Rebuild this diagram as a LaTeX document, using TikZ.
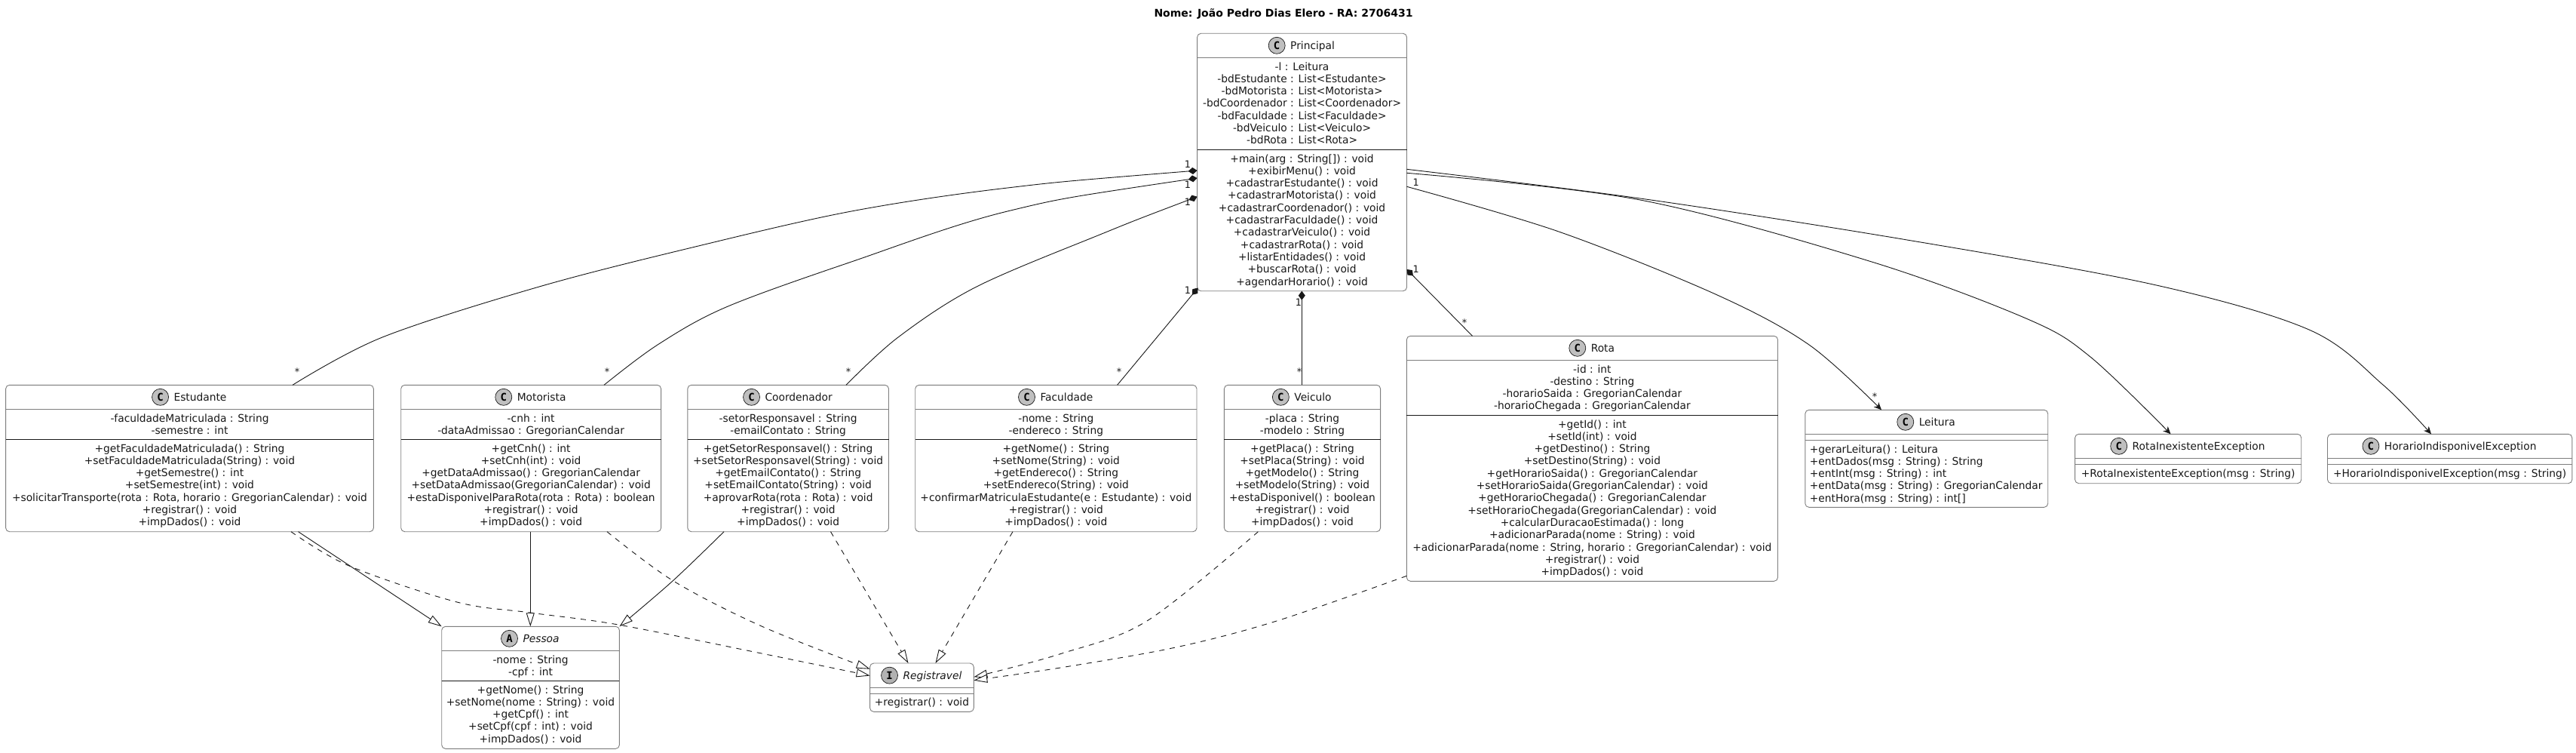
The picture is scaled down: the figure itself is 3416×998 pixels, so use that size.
\documentclass[tikz,border=0pt]{standalone}
\usepackage{fontspec}
\setmainfont{DejaVu Sans}[Ligatures=NoCommon,FakeStretch=0.985]
\newfontfamily\titlefont{DejaVu Sans}[Ligatures=NoCommon]
\newfontfamily\spotfont{DejaVu Sans Mono}[Ligatures=NoCommon]
\usetikzlibrary{arrows.meta}
\definecolor{ink}{HTML}{181818}
\definecolor{edgegray}{HTML}{7E7E7E}
\newlength\namew
\def\parsegeom#1,#2,#3,#4,#5,#6;{\def\gL{#1}\def\gR{#2}\def\gT{#3}\def\gH{#4}\def\gD{#5}\def\gB{#6}}
\def\centercomp{\def\mX{\cx}\def\mAnchor{north}\def\mAlign{center}}
\def\leftcomp{\pgfmathsetmacro\mX{\gL+6}\def\mAnchor{north west}\def\mAlign{left}}
\def\umlfont{\fontsize{14}{16.29}\selectfont}
\newcommand{\umlclass}[8]{%
  \parsegeom#2;%
  \setbox0=\hbox{\pgfinterruptpicture\umlfont #5\endpgfinterruptpicture}\namew=\wd0 %
  \pgfmathsetmacro\cx{(\gL+\gR)/2}\pgfmathsetmacro\cy{(\gT+\gB)/2}%
  \pgfmathsetmacro\bw{\gR-\gL}\pgfmathsetmacro\bh{\gB-\gT}%
  \pgfmathsetmacro\hy{(\gT+\gH)/2}\pgfmathsetmacro\hb{\hy+5}%
  \pgfmathsetmacro\cirx{\cx-\namew/2-4}\pgfmathsetmacro\namx{\cx-\namew/2+14}%
  \pgfmathsetmacro\ay{\gH+5.4}\pgfmathsetmacro\my{\gD+5.4}%
  \node[classbox,minimum width=\bw pt,minimum height=\bh pt] (#1) at (\cx,\cy) {};%
  \draw[sepline] (#1.west |- 0,\gH) -- (#1.east |- 0,\gH);%
  \node[spot,fill=#4] (#1-spot) at (\cirx,\hy) {#3};%
  \node[umltext,anchor=base west] (#1-name) at (\namx,\hb) {#5};%
  \def\tmpa{#6}%
  \ifx\tmpa\empty
    \draw[sepline] (#1.west |- 0,\gD) -- (#1.east |- 0,\gD);%
  \else
    \draw[sepdark] (#1.west |- 0,\gD) -- (#1.east |- 0,\gD);%
    \node[comptext,anchor=north,align=center] (#1-attrs) at (\cx,\ay) {\strut #6};%
  \fi
  #8%
  \node[comptext,anchor=\mAnchor,align=\mAlign] (#1-ops) at (\mX,\my) {\strut #7};%
}
\tikzset{
  x=1pt,y=-1pt,
  classbox/.style={draw=edgegray,line width=.9pt,fill=white,rounded corners=5pt,inner sep=0pt,outer sep=0pt},
  sepline/.style={draw=edgegray,line width=.9pt},
  sepdark/.style={draw=ink,line width=.9pt},
  umltext/.style={font=\umlfont,inner sep=0pt,outer sep=0pt,text=ink},
  comptext/.style={umltext},
  spot/.style={circle,draw=ink,line width=.7pt,minimum size=22pt,inner sep=0pt,text=black,font=\spotfont\bfseries\fontsize{14}{14}\selectfont},
  link/.style={draw=ink,line width=.9pt},
  comp/.style={link,{Diamond[length=12pt,width=9pt,fill=ink]}-},
  dep/.style={link,-{Stealth[length=10pt,width=9pt,inset=3pt,fill=ink]}},
  ext/.style={link,-{Triangle[length=18pt,width=11pt,fill=white]}},
  impl/.style={link,dash pattern=on 7pt off 7pt,-{Triangle[length=18pt,width=11pt,fill=white]}},
  mult/.style={font=\fontsize{13}{13}\selectfont,inner sep=0pt,text=ink},
}
\begin{document}
\begin{tikzpicture}
\useasboundingbox (0,0) rectangle (3416,998);
\fill[white] (0,0) rectangle (3416,998);
\node[font=\titlefont\fontsize{14}{16}\selectfont\bfseries,inner sep=0pt,text=black] (title) at (1702,18) {Nome: João Pedro Dias Elero - RA: 2706431};

\umlclass{principal}{1587.6,1865.5,44.3,76.3,198.3,385.7}{C}{gray!50}{Principal}
 {-l : Leitura\\-bdEstudante : List<Estudante>\\-bdMotorista : List<Motorista>\\-bdCoordenador : List<Coordenador>\\-bdFaculdade : List<Faculdade>\\-bdVeiculo : List<Veiculo>\\-bdRota : List<Rota>}
 {+main(arg : String[]) : void\\+exibirMenu() : void\\+cadastrarEstudante() : void\\+cadastrarMotorista() : void\\+cadastrarCoordenador() : void\\+cadastrarFaculdade() : void\\+cadastrarVeiculo() : void\\+cadastrarRota() : void\\+listarEntidades() : void\\+buscarRota() : void\\+agendarHorario() : void}{\centercomp}

\umlclass{estudante}{7.6,495.4,510.3,542.3,582.3,704.7}{C}{gray!50}{Estudante}
 {-faculdadeMatriculada : String\\-semestre : int}
 {+getFaculdadeMatriculada() : String\\+setFaculdadeMatriculada(String) : void\\+getSemestre() : int\\+setSemestre(int) : void\\+solicitarTransporte(rota : Rota, horario : GregorianCalendar) : void\\+registrar() : void\\+impDados() : void}{\centercomp}

\umlclass{motorista}{531.7,876.6,510.3,542.3,582.3,704.7}{C}{gray!50}{Motorista}
 {-cnh : int\\-dataAdmissao : GregorianCalendar}
 {+getCnh() : int\\+setCnh(int) : void\\+getDataAdmissao() : GregorianCalendar\\+setDataAdmissao(GregorianCalendar) : void\\+estaDisponivelParaRota(rota : Rota) : boolean\\+registrar() : void\\+impDados() : void}{\centercomp}

\umlclass{coordenador}{911.8,1178.5,510.3,542.3,582.3,704.7}{C}{gray!50}{Coordenador}
 {-setorResponsavel : String\\-emailContato : String}
 {+getSetorResponsavel() : String\\+setSetorResponsavel(String) : void\\+getEmailContato() : String\\+setEmailContato(String) : void\\+aprovarRota(rota : Rota) : void\\+registrar() : void\\+impDados() : void}{\centercomp}

\umlclass{faculdade}{1213.7,1587,510.3,542.3,582.3,704.7}{C}{gray!50}{Faculdade}
 {-nome : String\\-endereco : String}
 {+getNome() : String\\+setNome(String) : void\\+getEndereco() : String\\+setEndereco(String) : void\\+confirmarMatriculaEstudante(e : Estudante) : void\\+registrar() : void\\+impDados() : void}{\centercomp}

\umlclass{veiculo}{1623.4,1830.6,510.3,542.3,582.3,704.7}{C}{gray!50}{Veiculo}
 {-placa : String\\-modelo : String}
 {+getPlaca() : String\\+setPlaca(String) : void\\+getModelo() : String\\+setModelo(String) : void\\+estaDisponivel() : boolean\\+registrar() : void\\+impDados() : void}{\centercomp}

\umlclass{rota}{1865.3,2357.5,445.3,477.3,550.3,770.3}{C}{gray!50}{Rota}
 {-id : int\\-destino : String\\-horarioSaida : GregorianCalendar\\-horarioChegada : GregorianCalendar}
 {+getId() : int\\+setId(int) : void\\+getDestino() : String\\+setDestino(String) : void\\+getHorarioSaida() : GregorianCalendar\\+setHorarioSaida(GregorianCalendar) : void\\+getHorarioChegada() : GregorianCalendar\\+setHorarioChegada(GregorianCalendar) : void\\+calcularDuracaoEstimada() : long\\+adicionarParada(nome : String) : void\\+adicionarParada(nome : String, horario : GregorianCalendar) : void\\+registrar() : void\\+impDados() : void}{\centercomp}

\umlclass{leitura}{2393.8,2715.7,543.3,575.3,583.3,672.3}{C}{gray!50}{Leitura}
 {}
 {+gerarLeitura() : Leitura\\+entDados(msg : String) : String\\+entInt(msg : String) : int\\+entData(msg : String) : GregorianCalendar\\+entHora(msg : String) : int[]}{\leftcomp}

\umlclass{rie}{2751.6,3051.7,575.3,607.3,615.3,640.7}{C}{gray!50}{RotaInexistenteException}
 {}
 {+RotaInexistenteException(msg : String)}{\centercomp}

\umlclass{hie}{3086.5,3410.8,575.3,607.3,615.3,640.7}{C}{gray!50}{HorarioIndisponivelException}
 {}
 {+HorarioIndisponivelException(msg : String)}{\centercomp}

\umlclass{pessoa}{585.7,821.4,830.3,862.3,902.3,992.3}{A}{gray!50}{\itshape Pessoa}
 {-nome : String\\-cpf : int}
 {+getNome() : String\\+setNome(nome : String) : void\\+getCpf() : int\\+setCpf(cpf : int) : void\\+impDados() : void}{\centercomp}

\umlclass{registravel}{1153.6,1291.3,879,911.3,919,943.3}{I}{gray!60}{\itshape Registravel}
 {}
 {+registrar() : void}{\centercomp}

% composition links
\draw[comp] plot[smooth,tension=.55] coordinates {(principal.west |- 0,226) (1336,249) (1129,280) (922,327) (715,380) (507,447) (estudante.north -| 388,0)};
\draw[comp] plot[smooth,tension=.55] coordinates {(principal.west |- 0,236) (1336,280) (1129,347) (963,407) (872,457) (motorista.north -| 801,0)};
\draw[comp] plot[smooth,tension=.55] coordinates {(principal.west |- 0,260.7) (1461,310) (1295,380) (1191,447) (coordenador.north -| 1122,0)};
\draw[comp] (principal.north west |- 0,381.5) ++(1,0) -- (faculdade.north -| 1481.6,0);
\draw[comp] (principal.south -| 1726.3,0) -- (veiculo.north -| 1726.3,0);
\draw[comp] (principal.east |- 0,357) -- (rota.north -| 1952.5,0);

% dependency links
\draw[dep] plot[smooth,tension=.55] coordinates {(principal.east |- 0,247.3) (2067,307) (2275,390) (2399,457) (leitura.north -| 2495,0)};
\draw[dep] plot[smooth,tension=.55] coordinates {(principal.east |- 0,229.3) (2175,265) (2482,347) (2689,423) (2772,473) (rie.north -| 2878.5,0)};
\draw[dep] plot[smooth,tension=.55] coordinates {(principal.east |- 0,224.3) (2175,263) (2523,317) (2855,377) (3062,437) (3160,510) (hie.north -| 3224,0)};

% inheritance links
\draw[ext] (estudante.south -| 395.5,0) -- (pessoa.north west);
\draw[ext] (motorista.south -| 703.3,0) -- (pessoa.north -| 703.3,0);
\draw[ext] plot[smooth,tension=.55] coordinates {(coordenador.south -| 960,0) (892,770) (pessoa.north east)};

% realization links
\draw[impl] plot[smooth,tension=.55] coordinates {(estudante.south -| 386,0) (463,750) (606,798) (703,812) (820,828) (1000,864) (registravel.west |- 0,895.5)};
\draw[impl] plot[smooth,tension=.55] coordinates {(motorista.south -| 805,0) (893,770) (1010,830) (registravel.west |- 0,886.7)};
\draw[impl] plot[smooth,tension=.55] coordinates {(coordenador.south -| 1101.5,0) (registravel.north -| 1204.5,0)};
\draw[impl] plot[smooth,tension=.55] coordinates {(faculdade.south -| 1343,0) (registravel.north -| 1240.5,0)};
\draw[impl] plot[smooth,tension=.55] coordinates {(veiculo.south -| 1668.4,0) (1521,823) (1406,866.7) (registravel.east |- 0,897.3)};
\draw[impl] plot[smooth,tension=.55] coordinates {(rota.west |- 0,763.3) (1693,823) (1559,858) (1406,885) (registravel.east |- 0,901.7)};

% multiplicities
\node[mult] (m1) at (1575,218) {1};
\node[mult] (m2) at (1575,245) {1};
\node[mult] (m3) at (1575,268) {1};
\node[mult] (m4) at (1575,385) {1};
\node[mult] (m5) at (1722,401) {1};
\node[mult] (m6) at (1877.7,357) {1};
\node[mult] (m7) at (1877.7,241.7) {1};
\node[mult] (s1) at (394,492.7) {*};
\node[mult] (s2) at (805,492.7) {*};
\node[mult] (s3) at (1125,492.7) {*};
\node[mult] (s4) at (1484,492.7) {*};
\node[mult] (s5) at (1723,493) {*};
\node[mult] (s6) at (1942,428) {*};
\node[mult] (s7) at (2486,525.7) {*};
\end{tikzpicture}
\end{document}
